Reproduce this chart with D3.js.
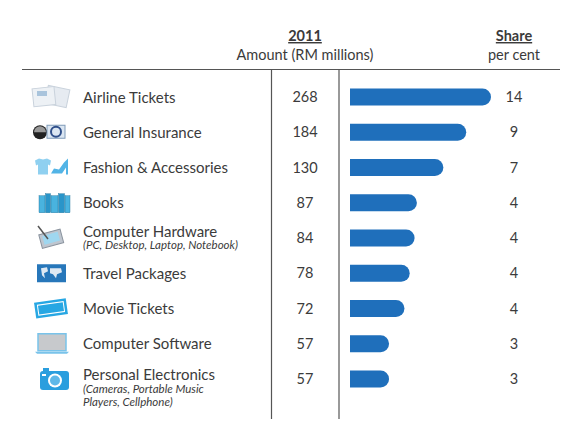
<!DOCTYPE html>
<html lang="en">
<head>
    <meta charset="UTF-8">
    <title>Online purchases 2011</title>
    <style type="text/css">
        body { margin: 0; background: #fff; }
        svg text { font-family: Lato, "Open Sans", sans-serif; fill: #3b3b3b; }
        .head { font-size: 14.5px; }
        .head-bold { font-size: 14.5px; font-weight: bold; text-decoration: underline; }
        .label { font-size: 15px; }
        .sub { font-size: 11.5px; font-style: italic; }
        .num { font-size: 14.5px; }
        .rule { stroke: #555; stroke-width: 1.2; }
    </style>
</head>
<body>
<script src="https://cdn.jsdelivr.net/npm/d3@7"></script>
<script>
    // data
    var categories = ['Airline Tickets', 'General Insurance', 'Fashion & Accessories', 'Books',
        'Computer Hardware', 'Travel Packages', 'Movie Tickets', 'Computer Software', 'Personal Electronics']
    var subLabels = ['', '', '', '', '(PC, Desktop, Laptop, Notebook)', '', '', '',
        '(Cameras, Portable Music|Players, Cellphone)']
    var amounts = [268, 184, 130, 87, 84, 78, 72, 57, 57]
    var shares = [14, 9, 7, 4, 4, 4, 4, 3, 3]
    var iconTypes = ['ticket', 'insurance', 'fashion', 'books', 'tablet', 'travel', 'movie', 'laptop', 'camera']

    var width = 585,
        height = 433

    var svg = d3.select('body')
        .append('svg')
        .attr('width', width)
        .attr('height', height)

    // rows
    var yScale = d3.scalePoint()
        .domain(categories)
        .range([97, 379])

    // bar length (infographic bars grow roughly with log of amount)
    var barX0 = 350
    var xScale = d3.scaleLog()
        .domain([31.5, 268])
        .range([barX0, barX0 + 141])
    var barH = 17

    var colAmount = 305,
        colShare = 514

    // header
    svg.append('text').attr('class', 'head-bold').attr('x', colAmount).attr('y', 41)
        .attr('text-anchor', 'middle').text('2011')
    svg.append('text').attr('class', 'head').attr('x', colAmount).attr('y', 59.5)
        .attr('text-anchor', 'middle').text('Amount (RM millions)')
    svg.append('text').attr('class', 'head-bold').attr('x', colShare).attr('y', 41)
        .attr('text-anchor', 'middle').text('Share')
    svg.append('text').attr('class', 'head').attr('x', colShare).attr('y', 59.5)
        .attr('text-anchor', 'middle').text('per cent')

    // frame lines
    svg.append('line').attr('class', 'rule').attr('x1', 22).attr('x2', 560).attr('y1', 69.5).attr('y2', 69.5)
    svg.append('line').attr('class', 'rule').attr('x1', 271.5).attr('x2', 271.5).attr('y1', 69.5).attr('y2', 419)
    svg.append('line').attr('class', 'rule').attr('x1', 339).attr('x2', 339).attr('y1', 69.5).attr('y2', 419)

    var rows = svg.selectAll('.row')
        .data(categories)
        .enter()
        .append('g')
        .attr('class', 'row')
        .attr('transform', d => `translate(0,${yScale(d)})`)

    // labels
    rows.append('text')
        .attr('class', 'label')
        .attr('x', 83)
        .attr('y', (d, i) => i == 4 ? -1.5 : (i == 8 ? 1 : 5.5))
        .text(d => d)

    rows.each(function(d, i) {
        if (!subLabels[i]) return
        var lines = subLabels[i].split('|')
        var g = d3.select(this)
        lines.forEach(function(t, j) {
            g.append('text')
                .attr('class', 'sub')
                .attr('x', 83)
                .attr('y', (i == 4 ? 11 : 13.5) + j * 13)
                .text(t)
        })
    })

    // amounts
    rows.append('text')
        .attr('class', 'num')
        .attr('x', colAmount)
        .attr('y', 5)
        .attr('text-anchor', 'middle')
        .text((d, i) => amounts[i])

    // bars, flat left end and round right end
    rows.append('path')
        .attr('fill', '#1f6fbb')
        .attr('d', function(d, i) {
            var x1 = xScale(amounts[i]), r = barH / 2
            return `M${barX0},${-r}H${x1 - r}A${r},${r} 0 0 1 ${x1 - r},${r}H${barX0}Z`
        })

    // shares
    rows.append('text')
        .attr('class', 'num')
        .attr('x', colShare)
        .attr('y', 5)
        .attr('text-anchor', 'middle')
        .text((d, i) => shares[i])

    // small pictograms
    var icon = rows.append('g').attr('transform', 'translate(50,0)')
    icon.each(function(d, i) {
        var g = d3.select(this)
        var t = iconTypes[i]
        if (t == 'ticket') {
            g.append('rect').attr('x', -4).attr('y', -11).attr('width', 22).attr('height', 18)
                .attr('transform', 'rotate(12)').attr('fill', '#e6ebf1').attr('stroke', '#c9d2dc')
            g.append('rect').attr('x', -17).attr('y', -10).attr('width', 22).attr('height', 18)
                .attr('transform', 'rotate(-6)').attr('fill', '#edf1f5').attr('stroke', '#c9d2dc')
            g.append('rect').attr('x', -13).attr('y', -6).attr('width', 10).attr('height', 5).attr('fill', '#a9c4dc')
        } else if (t == 'insurance') {
            g.append('circle').attr('cx', -10).attr('cy', 0).attr('r', 7).attr('fill', '#222')
            g.append('path').attr('d', 'M-16,0A6,6 0 0 1 -4,0Z').attr('fill', '#999')
            g.append('rect').attr('x', -3).attr('y', -7).attr('width', 18).attr('height', 13)
                .attr('fill', '#dbe6f2').attr('stroke', '#7f9ab8')
            g.append('ellipse').attr('cx', 6).attr('cy', -0.5).attr('rx', 5).attr('ry', 5)
                .attr('fill', 'none').attr('stroke', '#2f4f8a').attr('stroke-width', 2)
        } else if (t == 'fashion') {
            g.append('path').attr('fill', '#8fd0f0')
                .attr('d', 'M-15,-7L-11,-9L-7,-8L-3,-9L1,-7L0,-2L-2,-3L-2,7L-12,7L-12,-3L-14,-2Z')
            g.append('path').attr('fill', '#52b4e6')
                .attr('d', 'M1,6L4,1L9,2L14,-5L18,-9L18,7L16,7L16,0L12,6Z')
        } else if (t == 'books') {
            var bw = [6, 5, 7, 6, 5]
            var bx = -11
            bw.forEach(function(w, k) {
                g.append('rect').attr('x', bx).attr('y', k % 2 ? -9 : -7).attr('width', w)
                    .attr('height', k % 2 ? 19 : 17).attr('fill', k % 2 ? '#2a95c9' : '#49b3df')
                    .attr('stroke', '#1d6f98').attr('stroke-width', 0.4)
                bx += w + 0.5
            })
        } else if (t == 'tablet') {
            g.append('rect').attr('x', -10).attr('y', -6).attr('width', 22).attr('height', 14)
                .attr('transform', 'rotate(-15)').attr('fill', '#bfc6cf').attr('stroke', '#8a939e')
            g.append('rect').attr('x', -7).attr('y', -4).attr('width', 16).attr('height', 9)
                .attr('transform', 'rotate(-15)').attr('fill', '#9fd7f0')
            g.append('line').attr('x1', -12).attr('y1', -12).attr('x2', -2).attr('y2', 1)
                .attr('stroke', '#555').attr('stroke-width', 1.5)
        } else if (t == 'travel') {
            g.append('rect').attr('x', -13).attr('y', -9).attr('width', 29).attr('height', 18)
                .attr('fill', '#2777ba')
            g.append('path').attr('fill', '#dfe9f3')
                .attr('d', 'M-9,-5L-3,-6L-2,-2L-6,0L-5,5L-8,2ZM0,-5L11,-5L12,-1L7,1L6,5L3,1L0,0Z')
        } else if (t == 'movie') {
            g.append('rect').attr('x', -15).attr('y', -8).attr('width', 32).attr('height', 16)
                .attr('transform', 'rotate(-8)').attr('fill', '#27a7e3')
            g.append('rect').attr('x', -12).attr('y', -5).attr('width', 26).attr('height', 10)
                .attr('transform', 'rotate(-8)').attr('fill', 'none').attr('stroke', '#ffffff').attr('stroke-width', 1)
        } else if (t == 'laptop') {
            g.append('rect').attr('x', -12).attr('y', -10).attr('width', 28).attr('height', 17)
                .attr('fill', '#c7c9cc').attr('stroke', '#79c3ea').attr('stroke-width', 1.5)
            g.append('path').attr('d', 'M-15,8H19L17,10H-13Z').attr('fill', '#79c3ea')
        } else if (t == 'camera') {
            g.append('rect').attr('x', -10).attr('y', -8).attr('width', 29).attr('height', 19).attr('rx', 3)
                .attr('fill', '#2a9ede')
            g.append('rect').attr('x', -7).attr('y', -11).attr('width', 6).attr('height', 4).attr('fill', '#2a9ede')
            g.append('circle').attr('cx', 5).attr('cy', 1.5).attr('r', 7).attr('fill', '#ffffff')
            g.append('circle').attr('cx', 5).attr('cy', 1.5).attr('r', 5).attr('fill', '#5fb8e8')
            g.append('rect').attr('x', -8).attr('y', -5).attr('width', 4).attr('height', 2).attr('fill', '#fff')
        }
    })
</script>
</body>
</html>
